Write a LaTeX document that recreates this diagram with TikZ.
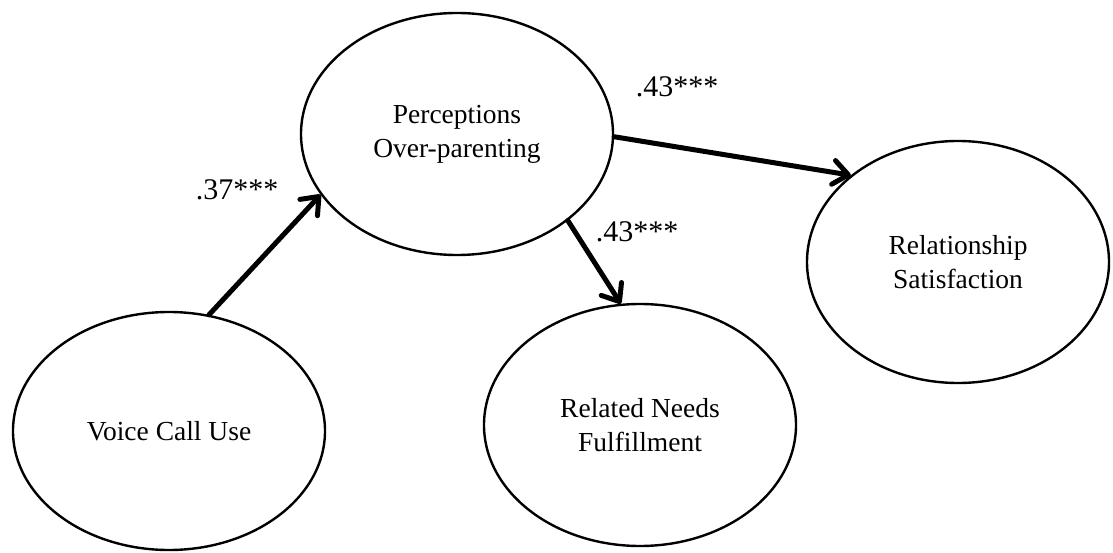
\documentclass[tikz,border=0pt]{standalone}
\usepackage{fontspec}
\setmainfont{Liberation Serif}
\usetikzlibrary{shapes.geometric,arrows.meta}

\tikzset{
  construct/.style={draw=black, line width=2.4pt, ellipse, inner sep=0pt,
    align=center, font=\fontsize{27.5}{34}\selectfont},
  path/.style={line width=5pt, line cap=round,
    -{Straight Barb[length=15pt,width=24pt,round]}},
  coef/.style={font=\fontsize{30}{34}\selectfont, inner sep=0pt}
}

\begin{document}
\begin{tikzpicture}[x=1pt,y=1pt]
  \useasboundingbox (0,0) rectangle (1113,552);

  % latent constructs (y measured upward from the bottom edge)
  \node[construct, minimum width=312pt, minimum height=242pt] (perc) at (457,418)
    {Perceptions\\Over-parenting};
  \node[construct, minimum width=312pt, minimum height=238pt] (voice) at (169,121)
    {Voice Call Use};
  \node[construct, minimum width=312pt, minimum height=242pt] (needs) at (640,127)
    {Related Needs\\Fulfillment};
  \node[construct, minimum width=302pt, minimum height=242pt] (rel) at (958,290)
    {Relationship\\Satisfaction};

  % structural paths
  \draw[path] (voice.71) -- (perc.204);
  \draw[path] (perc.-1) -- (rel.141);
  \draw[path] (perc.-38) -- (needs.99);

  % path coefficients
  \node[coef] (c1) at (237,362) {.37***};
  \node[coef] (c2) at (677,465) {.43***};
  \node[coef] (c3) at (637,320) {.43***};
\end{tikzpicture}
\end{document}
